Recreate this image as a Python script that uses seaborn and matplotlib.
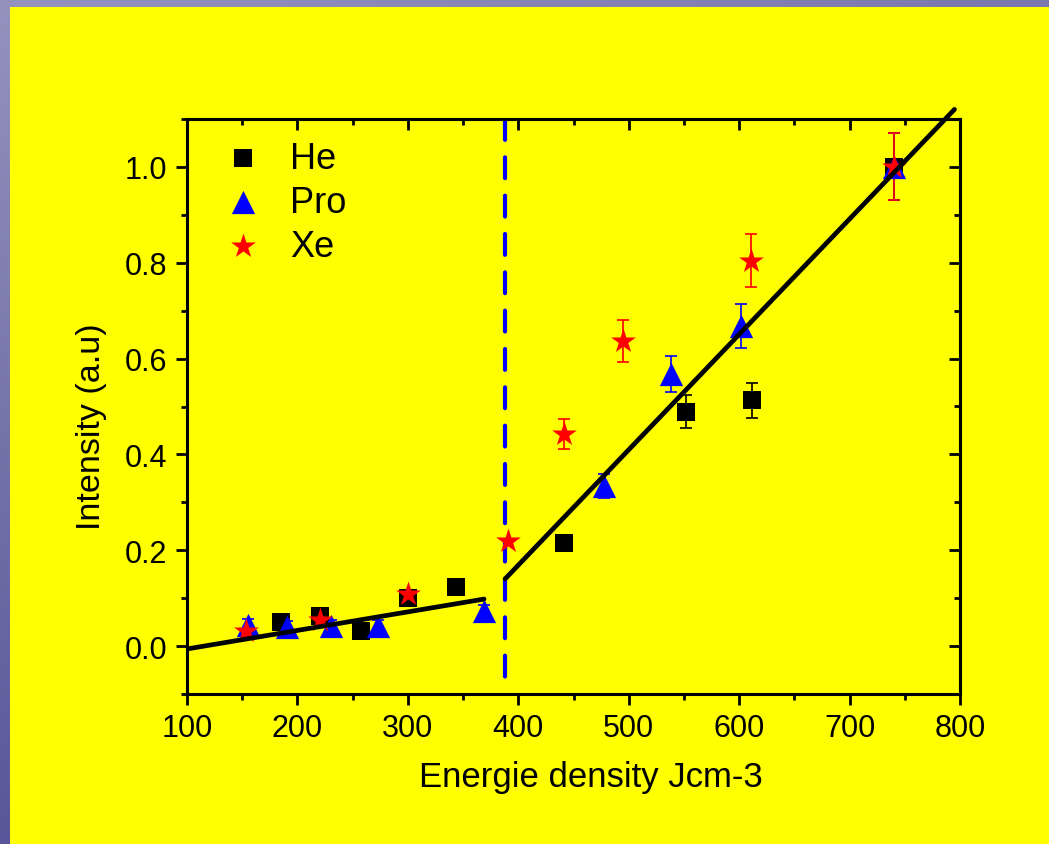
import numpy as np
import pandas as pd
import matplotlib
matplotlib.use("Agg")
import matplotlib.pyplot as plt
import seaborn as sns
from matplotlib.ticker import MultipleLocator, FormatStrFormatter

# --- data -------------------------------------------------------------
he_x = [185, 220, 258, 300, 344, 441, 552, 612, 740]
he_y = [0.050, 0.063, 0.031, 0.100, 0.123, 0.215, 0.489, 0.513, 1.000]
he_err = [0.0, 0.0, 0.0, 0.0, 0.0, 0.0, 0.034, 0.036, 0.0]

pro_x = [155, 191, 230, 273, 369, 478, 538, 602, 740]
pro_y = [0.044, 0.040, 0.042, 0.042, 0.073, 0.334, 0.568, 0.668, 1.000]
pro_err = [0.012, 0.012, 0.012, 0.012, 0.012, 0.025, 0.038, 0.046, 0.07]

xe_x = [153, 220, 300, 391, 441, 495, 611, 740]
xe_y = [0.031, 0.054, 0.109, 0.219, 0.443, 0.637, 0.804, 1.000]
xe_err = [0.0, 0.0, 0.0, 0.0, 0.031, 0.044, 0.055, 0.07]

# linear fits: (slope, intercept, x_start, x_end)
fit_low = (0.000387, -0.0447, 100, 369)
fit_high = (0.002408, -0.7943, 388, 795)
threshold_x = 388

# --- style ------------------------------------------------------------
sns.set_theme(style="ticks")
plt.rcParams["font.family"] = ["Liberation Sans", "DejaVu Sans"]
plt.rcParams["text.color"] = "black"
plt.rcParams["axes.labelcolor"] = "black"
plt.rcParams["xtick.color"] = "black"
plt.rcParams["ytick.color"] = "black"

yellow = "#ffff00"
fig = plt.figure(figsize=(10.49, 8.45), dpi=100, facecolor=yellow)

# slide frame strips
W, H = 1049, 845
strip_l = fig.add_axes([0, 0, 10 / W, 1])
gl = np.linspace(0, 1, 256)[:, None, None]
top_c = np.array([150, 146, 190]) / 255
bot_c = np.array([88, 86, 152]) / 255
strip_l.imshow(top_c * (1 - gl) + bot_c * gl, aspect="auto")
strip_l.axis("off")
strip_t = fig.add_axes([0, 1 - 8 / H, 1, 8 / H])
gt = np.linspace(0, 1, 256)[None, :, None]
right_c = np.array([122, 120, 172]) / 255
strip_t.imshow(top_c * (1 - gt) + right_c * gt, aspect="auto")
strip_t.axis("off")

ax = fig.add_axes([187 / W, 1 - 695 / H, (960 - 187) / W, (695 - 120) / H])
ax.set_facecolor(yellow)

# error bars
eb = dict(fmt="none", elinewidth=1.2, capsize=4, capthick=1.2, zorder=2)
ax.errorbar(he_x, he_y, yerr=he_err, ecolor="black", **eb)
ax.errorbar(pro_x, pro_y, yerr=pro_err, ecolor="blue", **eb)
ax.errorbar(xe_x, xe_y, yerr=xe_err, ecolor="red", **eb)

# markers
sns.scatterplot(x=he_x, y=he_y, marker="s", color="black", s=160, linewidth=0, ax=ax, label="He", zorder=3)
sns.scatterplot(x=pro_x, y=pro_y, marker="^", color="blue", s=280, linewidth=0, ax=ax, label="Pro", zorder=4)
sns.scatterplot(x=xe_x, y=xe_y, marker="*", color="red", s=350, linewidth=0, ax=ax, label="Xe", zorder=5)

# fit lines
for slope, icpt, x0, x1 in (fit_low, fit_high):
    xs = np.array([x0, x1], dtype=float)
    sns.lineplot(x=xs, y=slope * xs + icpt, color="black", lw=3.4, ax=ax,
                 solid_capstyle="round", zorder=6, legend=False)
ax.lines[-1].set_clip_on(False)

vl = ax.axvline(threshold_x, color="blue", lw=3, ls=(0, (5, 4.2)), dash_capstyle="round", zorder=1)
vl.set_ydata([1, 0])

ax.set_xlim(100, 800)
ax.set_ylim(-0.1, 1.1)
ax.xaxis.set_major_locator(MultipleLocator(100))
ax.xaxis.set_minor_locator(MultipleLocator(50))
ax.yaxis.set_major_locator(MultipleLocator(0.2))
ax.yaxis.set_minor_locator(MultipleLocator(0.1))
ax.yaxis.set_major_formatter(FormatStrFormatter("%.1f"))

for sp in ax.spines.values():
    sp.set_linewidth(2.2)
    sp.set_color("black")
    sp.set_visible(True)

ax.tick_params(which="major", direction="out", length=8, width=2, labelsize=22, pad=6)
ax.tick_params(which="minor", direction="out", length=4.5, width=2)

# inward ticks on top and right
top = ax.secondary_xaxis("top")
top.xaxis.set_major_locator(MultipleLocator(100))
top.xaxis.set_minor_locator(MultipleLocator(50))
top.tick_params(which="major", direction="in", length=8, width=2, labeltop=False)
top.tick_params(which="minor", direction="in", length=4.5, width=2)
top.spines["top"].set_linewidth(2.2)
right = ax.secondary_yaxis("right")
right.yaxis.set_major_locator(MultipleLocator(0.2))
right.yaxis.set_minor_locator(MultipleLocator(0.1))
right.tick_params(which="major", direction="in", length=8, width=2, labelright=False)
right.tick_params(which="minor", direction="in", length=4.5, width=2)
right.spines["right"].set_linewidth(2.2)

ax.set_xlabel("Energie density Jcm-3", fontsize=25)
ax.set_ylabel("Intensity (a.u)", fontsize=24.5)
ax.xaxis.set_label_coords(0.523, -0.114)
ax.yaxis.set_label_coords(-0.104, 0.466)

leg = ax.legend(loc="upper left", bbox_to_anchor=(0.007, 0.987), frameon=False, fontsize=26,
                handletextpad=0.3, labelspacing=0.25, borderaxespad=0)

fig.savefig("out.png", dpi=100, facecolor=yellow)
